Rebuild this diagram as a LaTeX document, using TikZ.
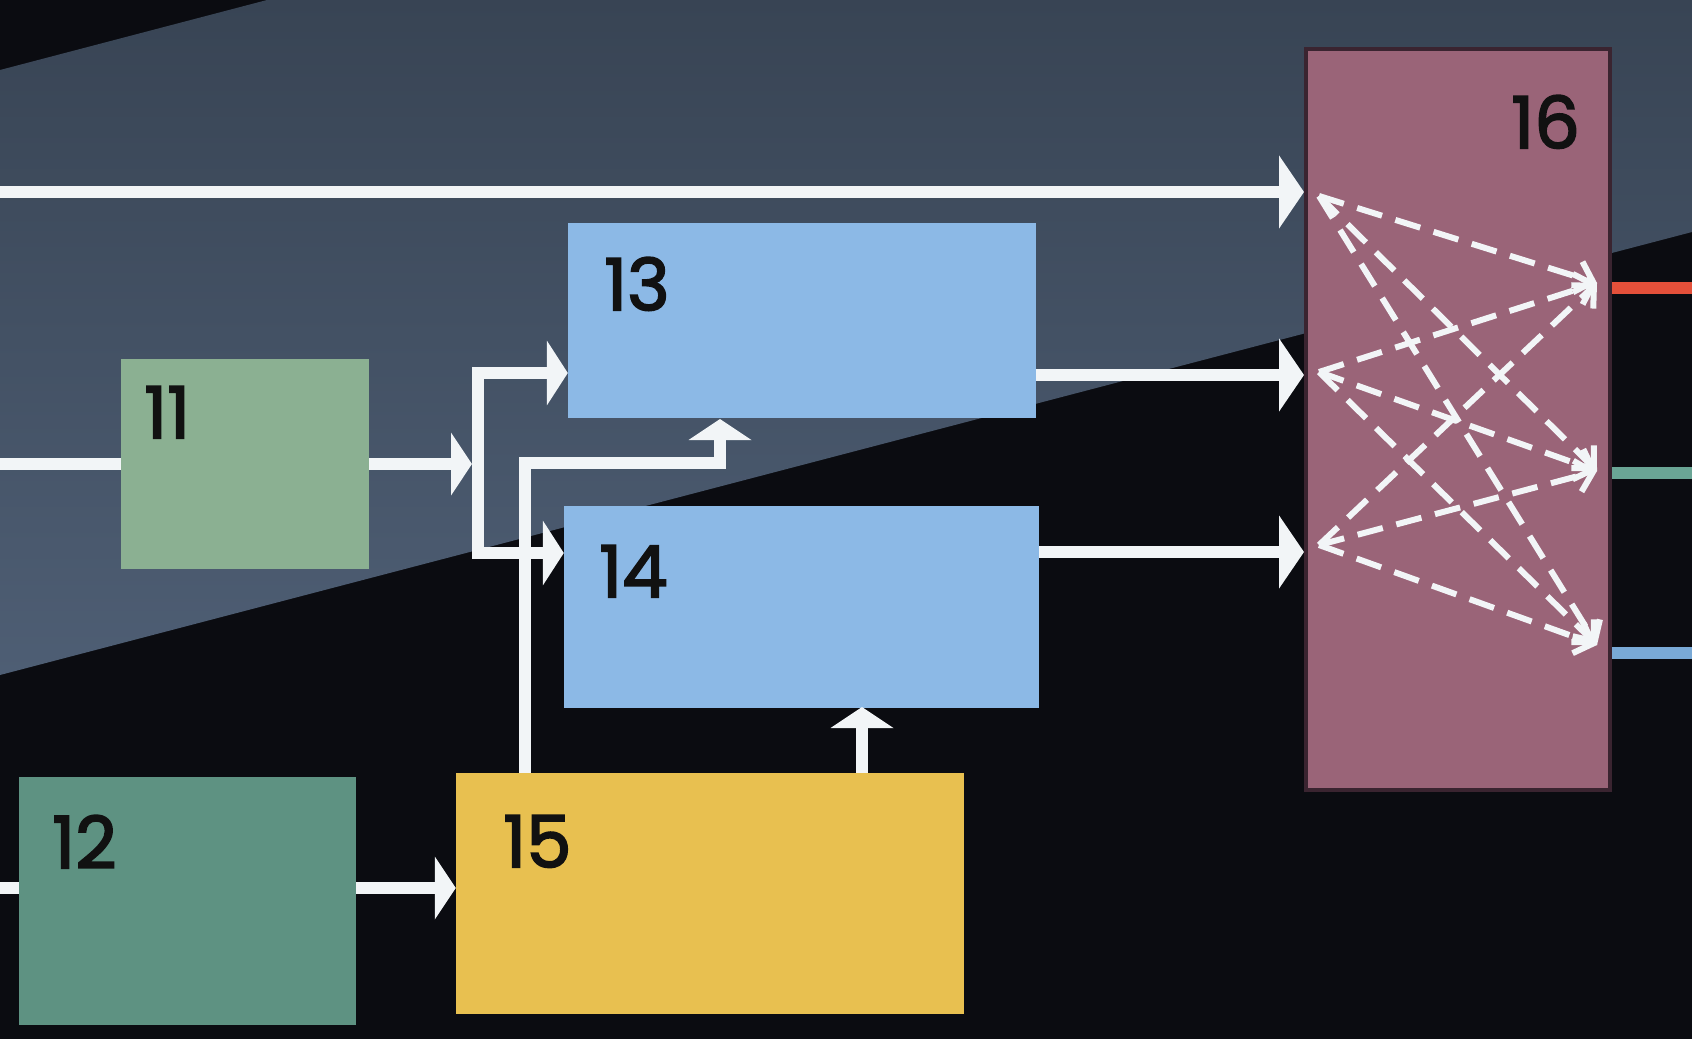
\documentclass[tikz,border=0pt]{standalone}
\usepackage{fontspec}
\setmainfont{Poppins}
\newfontfamily\numfont{Poppins}[FakeBold=2.5]
\usetikzlibrary{arrows.meta}
\definecolor{bgdark}{HTML}{0B0C11}
\definecolor{bandtop}{HTML}{384454}
\definecolor{bandbot}{HTML}{4E5E74}
\definecolor{cgreenA}{HTML}{8BB092}
\definecolor{cgreenB}{HTML}{5E9282}
\definecolor{cblue}{HTML}{8CB9E6}
\definecolor{cyellow}{HTML}{E8C050}
\definecolor{cmauve}{HTML}{9A6478}
\definecolor{cmauveedge}{HTML}{3A2430}
\definecolor{wline}{HTML}{F2F5F7}
\definecolor{outred}{HTML}{E4503A}
\definecolor{outgreen}{HTML}{6AA595}
\definecolor{outblue}{HTML}{79A9D6}
\definecolor{labelcol}{HTML}{111111}
\tikzset{
  blockbox/.style={rectangle, inner sep=0pt, draw=none},
  numlabel/.style={anchor=north west, inner sep=0pt, text=labelcol, font=\numfont\fontsize{72}{72}\selectfont},
  wl/.style={draw=wline, line width=12pt, line join=miter},
  bigtip/.style={-{Triangle[length=25pt,width=72pt]}},
  midtip/.style={-{Triangle[length=21pt,width=62pt]}},
  dashray/.style={draw=wline, line width=6pt, dash pattern=on 26pt off 14pt, -{Straight Barb[length=16pt,width=32pt,line width=6pt]}},
  outline/.style={line width=12pt}
}
\begin{document}
\begin{tikzpicture}[x=1pt,y=-1pt]
\useasboundingbox (0,0) rectangle (1692,1039);
% background
\fill[bgdark] (0,0) rectangle (1692,1039);
\shade[top color=bandtop, bottom color=bandbot] (0,70) -- (267,0) -- (1692,0) -- (1692,232) -- (0,675) -- cycle;

% blocks
\node[blockbox, fill=cgreenA, minimum width=248pt, minimum height=210pt] (n11) at (245,464) {};
\node[blockbox, fill=cgreenB, minimum width=337pt, minimum height=248pt] (n12) at (187.5,901) {};
\node[blockbox, fill=cblue, minimum width=468pt, minimum height=195pt] (n13) at (802,320.5) {};
\node[blockbox, fill=cblue, minimum width=475pt, minimum height=202pt] (n14) at (801.5,606.5) {};
\node[blockbox, fill=cyellow, minimum width=508pt, minimum height=241pt] (n15) at (710,893.5) {};
\node[blockbox, fill=cmauve, draw=cmauveedge, line width=4pt, minimum width=304pt, minimum height=741pt] (n16) at (1458,419.5) {};

% labels
\node[numlabel] (l11) at (144,386) {11};
\node[numlabel] (l12) at (52,815) {12};
\node[numlabel] (l13) at (604,257) {13};
\node[numlabel] (l14) at (599,545) {14};
\node[numlabel] (l15) at (503,815) {15};
\node[numlabel] (l16) at (1511,95) {16};

% coordinates
\coordinate (inTop) at (0,192);
\coordinate (in11) at (0,464);
\coordinate (in12) at (0,888);
\coordinate (busTop) at (478,373);
\coordinate (busBot) at (478,553);
\coordinate (busHit) at (472,464);
\coordinate (c15a) at (525,773);
\coordinate (c15b) at (525,463);
\coordinate (c15c) at (720,463);
\coordinate (c15d) at (720,419);
\coordinate (c15e) at (862,773);
\coordinate (c15f) at (862,707);
\coordinate (i1) at (1319,196);
\coordinate (i2) at (1319,372);
\coordinate (i3) at (1319,545);
\coordinate (o1) at (1597,283);
\coordinate (o2) at (1597,471);
\coordinate (o3) at (1597,645);
\coordinate (e1) at (1692,288);
\coordinate (e2) at (1692,473);
\coordinate (e3) at (1692,653);

% white connectors
\draw[wl, bigtip] (inTop) -- (inTop -| n16.west);
\draw[wl] (in11) -- (in11 -| n11.west);
\draw[wl, midtip] (in11 -| n11.east) -- (busHit);
\draw[wl, {Triangle[length=21pt,width=64pt]}-{Triangle[length=21pt,width=64pt]}] (busTop -| n13.west) -- (busTop) -- (busBot) -- (busBot -| n14.west);
\draw[wl, midtip] (c15a) -- (c15b) -- (c15c) -- (c15d);
\draw[wl, midtip] (c15e) -- (c15f);
\draw[wl] (in12) -- (in12 -| n12.west);
\draw[wl, midtip] (in12 -| n12.east) -- (in12 -| n15.west);
\draw[wl, bigtip] (n13.east |- 0,375) -- (n16.west |- 0,375);
\draw[wl, bigtip] (n14.east |- 0,552) -- (n16.west |- 0,552);

% output lines
\draw[outline, draw=outred] (e1 -| n16.east) -- (e1);
\draw[outline, draw=outgreen] (e2 -| n16.east) -- (e2);
\draw[outline, draw=outblue] (e3 -| n16.east) -- (e3);

% internal dashed rays of 16
\foreach \a in {i1,i2,i3}{
  \foreach \b in {o1,o2,o3}{
    \draw[dashray] (\a) -- (\b);
  }
}
\end{tikzpicture}
\end{document}
